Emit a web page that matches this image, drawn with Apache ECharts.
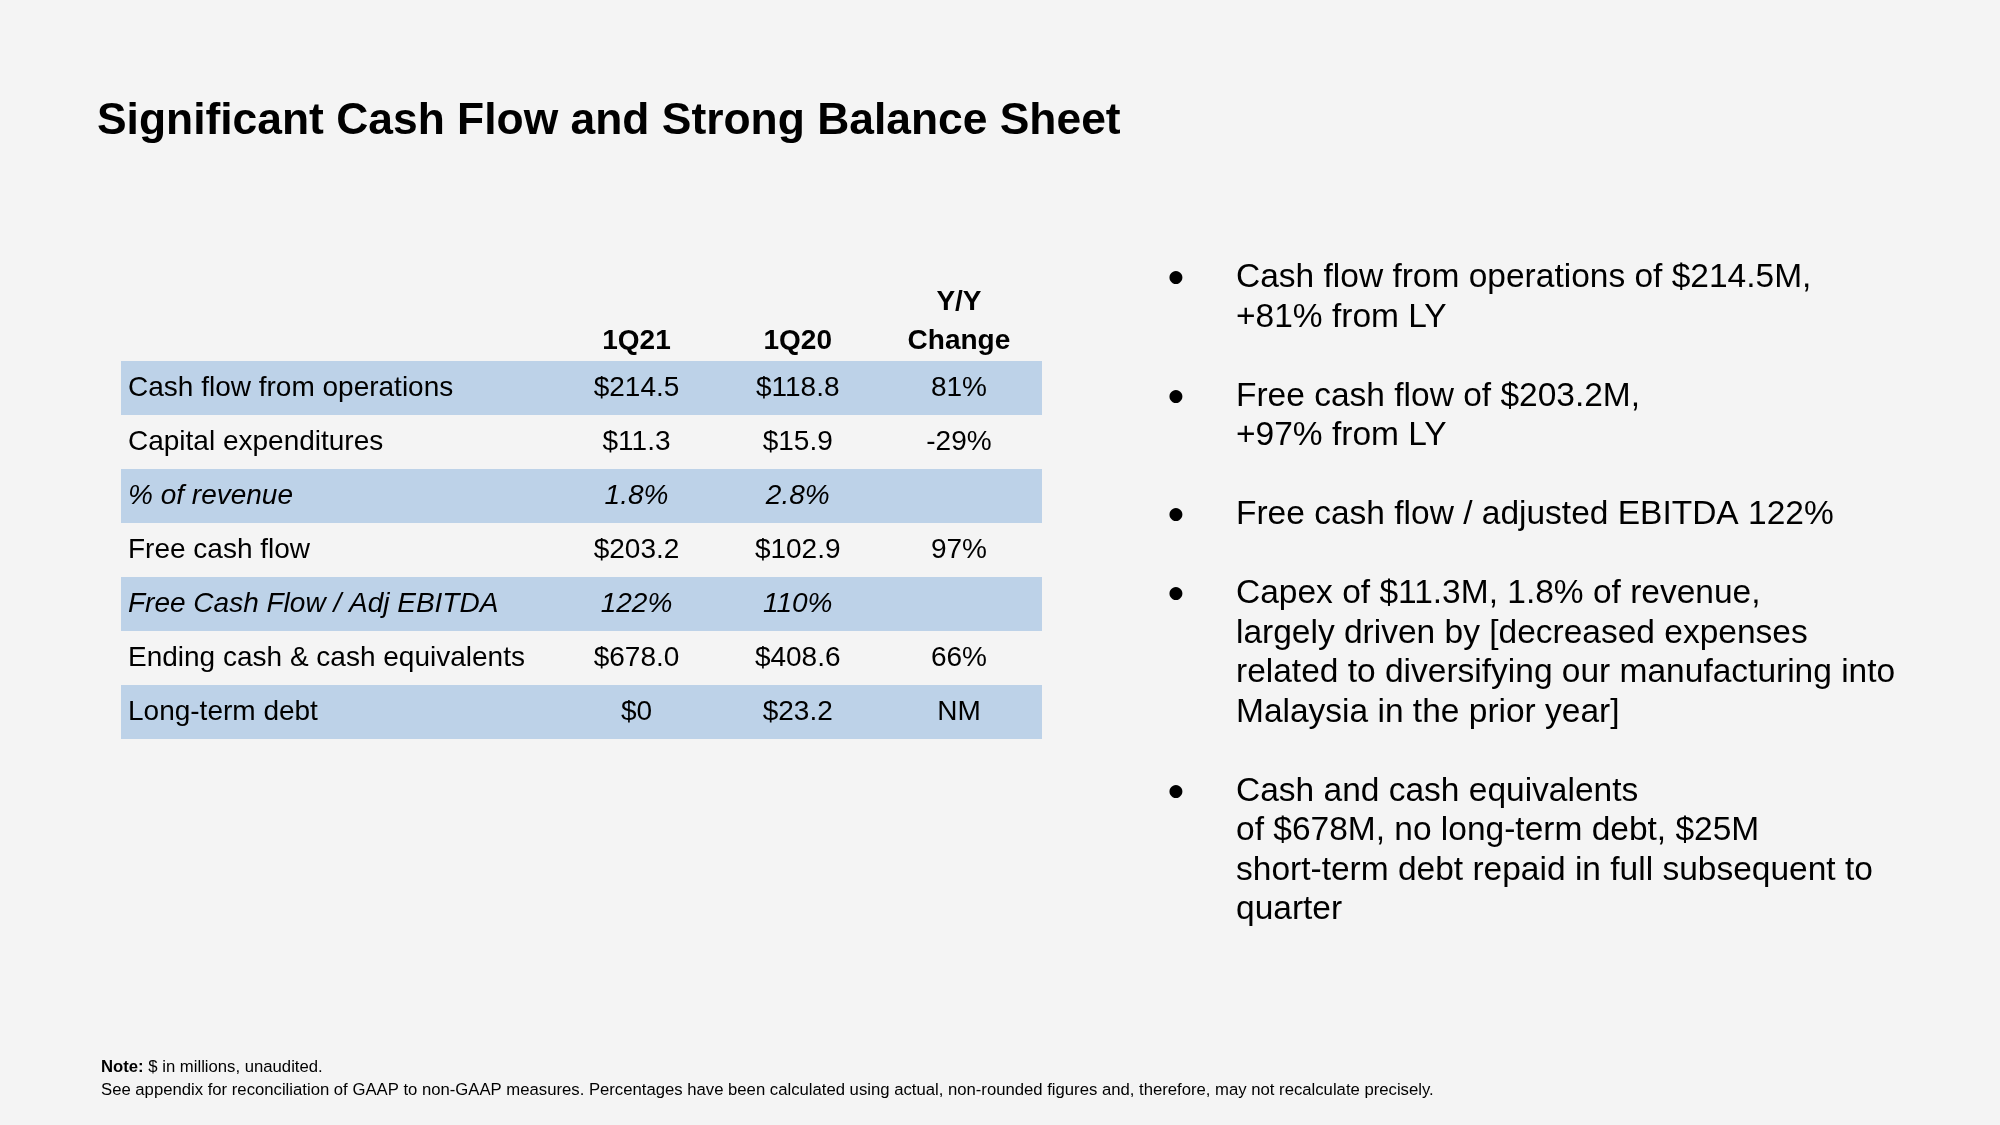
<!DOCTYPE html>
<html><head><meta charset="utf-8">
<script src="https://cdn.jsdelivr.net/npm/echarts@6/dist/echarts.min.js"></script>
<style>html,body{margin:0;padding:0;background:#f4f4f4;}#chart{width:2000px;height:1125px;}</style>
</head><body><div id="chart"></div>
<script>
// ---------- data ----------
const titleText = 'Significant Cash Flow and Strong Balance Sheet';
const columnHeaders = ['1Q21', '1Q20', 'Y/Y\nChange'];
const rowLabels = [
  'Cash flow from operations',
  'Capital expenditures',
  '% of revenue',
  'Free cash flow',
  'Free Cash Flow / Adj EBITDA',
  'Ending cash & cash equivalents',
  'Long-term debt'
];
const values1Q21 = ['$214.5', '$11.3', '1.8%', '$203.2', '122%', '$678.0', '$0'];
const values1Q20 = ['$118.8', '$15.9', '2.8%', '$102.9', '110%', '$408.6', '$23.2'];
const yoyChange = ['81%', '-29%', '', '97%', '', '66%', 'NM'];
const ratioRows = [2, 4];
const bullets = [
  'Cash flow from operations of $214.5M,\n+81% from LY',
  'Free cash flow of $203.2M,\n+97% from LY',
  'Free cash flow / adjusted EBITDA 122%',
  'Capex of $11.3M, 1.8% of revenue,\nlargely driven by [decreased expenses\nrelated to diversifying our manufacturing into\nMalaysia in the prior year]',
  'Cash and cash equivalents\nof $678M, no long-term debt, $25M\nshort-term debt repaid in full subsequent to\nquarter'
];
const noteLabel = 'Note:';
const noteLines = [
  '$ in millions, unaudited.',
  'See appendix for reconciliation of GAAP to non-GAAP measures. Percentages have been calculated using actual, non-rounded figures and, therefore, may not recalculate precisely.'
];

// ---------- styling ----------
const FONT = "'Liberation Sans', Arial, Helvetica, sans-serif";
const BLUE = '#bdd2e8';
const INK = '#000000';
const TABLE_FS = 28;
const BULLET_FS = 33.5;
const BULLET_LH = 39.5;

const chart = echarts.init(document.getElementById('chart'), null, {renderer: 'canvas'});

const yCats = [''].concat(rowLabels);

function renderRow(params, api) {
  const i = params.dataIndex;
  const cs = params.coordSys;
  const yc = api.coord([1, i])[1];
  const bandH = api.size([0, 1])[1];
  const children = [];
  if (i === 0) {
    columnHeaders.forEach(function (t, c) {
      children.push({
        type: 'text',
        style: {
          text: t, x: api.coord([c + 1, i])[0], y: yc + bandH / 2,
          align: 'center', verticalAlign: 'bottom',
          fontFamily: FONT, fontSize: TABLE_FS, fontWeight: 'bold',
          lineHeight: 39, fill: INK
        }
      });
    });
  } else {
    const r = i - 1;
    const italic = ratioRows.indexOf(r) >= 0;
    if (r % 2 === 0) {
      children.push({
        type: 'rect',
        shape: {x: cs.x, y: yc - bandH / 2, width: cs.width, height: bandH},
        style: {fill: BLUE}
      });
    }
    children.push({
      type: 'text',
      style: {
        text: rowLabels[r], x: cs.x + 7, y: yc,
        align: 'left', verticalAlign: 'middle',
        fontFamily: FONT, fontSize: TABLE_FS, fontStyle: italic ? 'italic' : 'normal',
        fill: INK
      }
    });
    [values1Q21[r], values1Q20[r], yoyChange[r]].forEach(function (t, c) {
      children.push({
        type: 'text',
        style: {
          text: t, x: api.coord([c + 1, i])[0], y: yc,
          align: 'center', verticalAlign: 'middle',
          fontFamily: FONT, fontSize: TABLE_FS, fontStyle: italic ? 'italic' : 'normal',
          fill: INK
        }
      });
    });
  }
  return {type: 'group', children: children};
}

// bullets layout
const graphics = [];
let lineIdx = 0;
const firstLineCenter = 278;
bullets.forEach(function (b) {
  const yCenter = firstLineCenter + lineIdx * BULLET_LH;
  graphics.push({
    type: 'text', x: 1176, y: yCenter,
    style: {text: '●', fontFamily: "'DejaVu Sans', sans-serif", fontSize: 17,
      align: 'center', verticalAlign: 'middle', fill: INK}
  });
  graphics.push({
    type: 'text', x: 1236, y: yCenter - BULLET_LH / 2,
    style: {text: b, fontFamily: FONT, fontSize: BULLET_FS, lineHeight: BULLET_LH,
      align: 'left', verticalAlign: 'top', fill: INK}
  });
  lineIdx += b.split('\n').length + 1;
});
graphics.push({
  type: 'text', x: 101, y: 1056,
  style: {
    text: '{b|' + noteLabel + '} ' + noteLines[0] + '\n' + noteLines[1],
    fontFamily: FONT, fontSize: 16.7, lineHeight: 23, fill: INK,
    align: 'left', verticalAlign: 'top',
    rich: {b: {fontFamily: FONT, fontSize: 16.7, fontWeight: 'bold', lineHeight: 23, fill: INK}}
  }
});

chart.setOption({
  backgroundColor: '#f4f4f4',
  animation: false,
  title: {
    text: titleText, left: 97, top: 97, padding: 0,
    textStyle: {fontFamily: FONT, fontSize: 44.4, fontWeight: 'bold', color: INK, lineHeight: 50}
  },
  grid: {left: 121, right: 958, top: 307, bottom: 386, containLabel: false},
  xAxis: {type: 'value', min: -2.197, max: 3.515, show: false},
  yAxis: {type: 'category', data: yCats, inverse: true, show: false},
  series: [{
    type: 'custom',
    silent: true,
    clip: false,
    renderItem: renderRow,
    encode: {x: 0, y: 1},
    data: yCats.map(function (_, i) { return [1, i]; })
  }],
  graphic: graphics
});
</script></body></html>
